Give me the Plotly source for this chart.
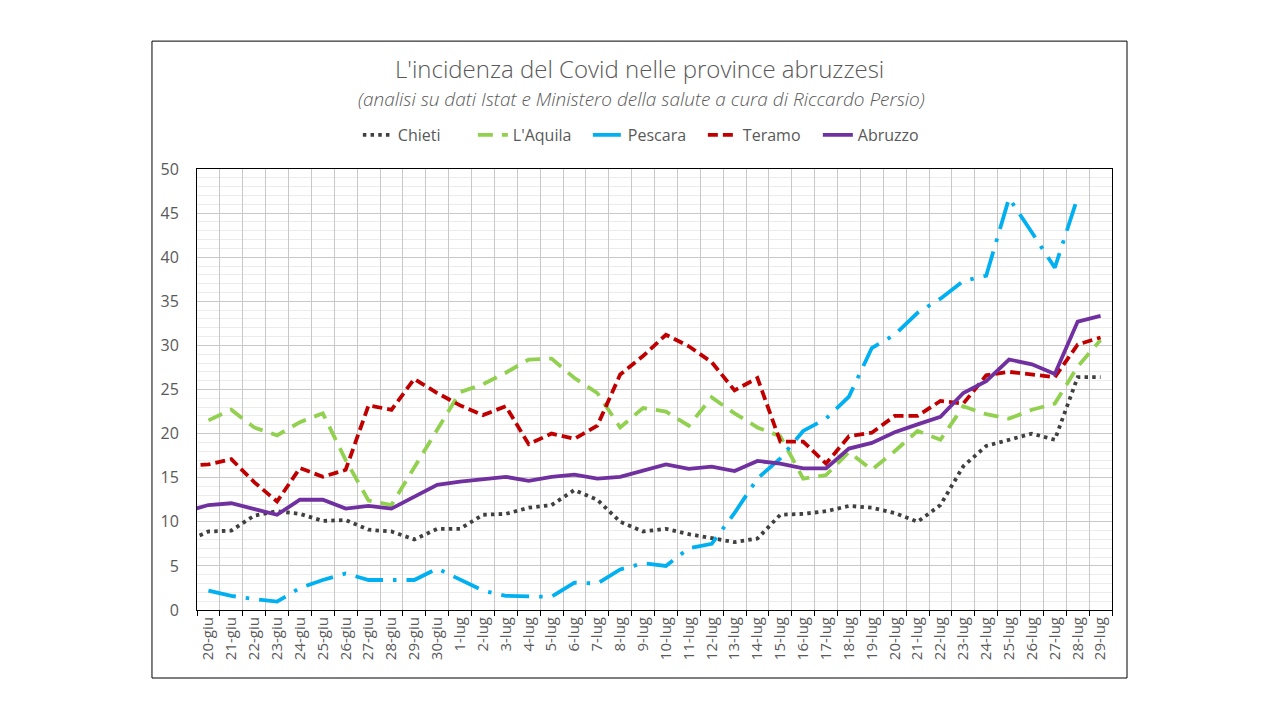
import plotly.graph_objects as go

# Categories (19-giu is present in the data but falls outside the visible axis range)
dates = ["19-giu", "20-giu", "21-giu", "22-giu", "23-giu", "24-giu", "25-giu", "26-giu", "27-giu",
         "28-giu", "29-giu", "30-giu"] + [f"{d}-lug" for d in range(1, 30)]

chieti = [7.75, 8.9, 9.0, 10.7, 11.2, 10.9, 10.1, 10.2, 9.1, 8.9, 8.0, 9.2,
          9.2, 10.8, 10.9, 11.6, 11.9, 13.6, 12.5, 10.0, 8.9, 9.2, 8.6, 8.2, 7.7, 8.1,
          10.8, 10.9, 11.2, 11.8, 11.6, 11.0, 10.0, 11.9, 16.3, 18.6, 19.3, 20.0, 19.3, 26.4, 26.4]
laquila = [None, 21.5, 22.7, 20.7, 19.8, 21.3, 22.3, 17.0, 12.4, 11.9, 16.2, 20.4,
           24.7, 25.6, 26.9, 28.4, 28.5, 26.3, 24.6, 20.7, 22.9, 22.5, 20.9, 24.1, 22.3, 20.7,
           19.7, 14.9, 15.3, 17.9, 15.9, 18.0, 20.3, 19.3, 23.1, 22.2, 21.7, 22.7, 23.4, 27.6, 30.6]
pescara = [None, 2.2, 1.6, 1.25, 0.95, 2.5, 3.4, 4.15, 3.4, 3.4, 3.4, 4.7,
           3.4, 2.2, 1.6, 1.5, 1.5, 3.1, 3.0, 4.6, 5.3, 5.0, 7.0, 7.5, 11.0, 14.9,
           17.2, 20.3, 21.7, 24.2, 29.7, 31.2, 33.7, 35.3, 37.3, 37.9, 46.7, 42.8, 38.8, 46.8, None]
teramo = [16.35, 16.5, 17.1, 14.5, 12.3, 16.1, 15.1, 15.9, 23.2, 22.7, 26.2, 24.6,
          23.2, 22.1, 23.1, 18.8, 20.0, 19.4, 20.9, 26.7, 28.8, 31.2, 29.9, 28.1, 24.9, 26.3,
          19.1, 19.1, 16.6, 19.7, 20.1, 22.0, 22.0, 23.7, 23.4, 26.6, 27.0, 26.7, 26.4, 30.1, 30.9]
abruzzo = [11.15, 11.9, 12.1, 11.5, 10.8, 12.5, 12.5, 11.5, 11.8, 11.5, 12.85, 14.2,
           14.55, 14.8, 15.1, 14.65, 15.1, 15.35, 14.9, 15.1, 15.8, 16.5, 16.0, 16.25, 15.75, 16.9,
           16.6, 16.05, 16.05, 18.3, 18.95, 20.15, 21.05, 21.9, 24.6, 25.95, 28.4, 27.85, 26.75, 32.7, 33.35]

series = [
    ("Chieti", chieti, "#404040", "3.5px,4.2px"),
    ("L'Aquila", laquila, "#92D050", "15px,9px"),
    ("Pescara", pescara, "#00B0F0", "28px,10px,3.5px,10px"),
    ("Teramo", teramo, "#C00000", "10px,5px"),
    ("Abruzzo", abruzzo, "#7030A0", "solid"),
]

FONT = "Open Sans"
GREY = "#595959"

fig = go.Figure()
for name, vals, color, dash in series:
    fig.add_trace(go.Scatter(
        x=dates, y=vals, name=name, mode="lines",
        line=dict(color=color, width=3.8, dash=dash),
        connectgaps=False,
    ))

fig.update_layout(
    width=1280, height=720,
    margin=dict(l=197, r=168, t=169, b=110),
    paper_bgcolor="white", plot_bgcolor="white",
    font=dict(family=FONT, color=GREY),
    showlegend=True,
    legend=dict(orientation="h", x=0.49, xanchor="center", y=1.077, yanchor="middle",
                font=dict(size=16, color=GREY, family=FONT), bgcolor="rgba(0,0,0,0)",
                itemwidth=30, entrywidth=70, entrywidthmode="pixels"),
    annotations=[
        dict(text="L'incidenza del Covid nelle province abruzzesi", xref="paper", yref="paper",
             x=0.484, y=1.2268, xanchor="center", yanchor="middle", showarrow=False,
             font=dict(size=24, color=GREY, family=FONT, weight=300)),
        dict(text="<i>(analisi su dati Istat e Ministero della salute a cura di Riccardo Persio)</i>",
             xref="paper", yref="paper", x=0.486, y=1.1587, xanchor="center", yanchor="middle",
             showarrow=False, font=dict(size=19, color=GREY, family=FONT, weight=300)),
    ],
    shapes=[
        dict(type="rect", xref="paper", yref="paper", x0=-0.0492, x1=1.0164, y0=-0.1542, y1=1.290,
             line=dict(color="black", width=1), fillcolor="rgba(0,0,0,0)", layer="below"),
    ],
)

fig.update_xaxes(
    type="category", categoryorder="array", categoryarray=dates,
    range=[0.5, len(dates) - 0.5],
    tickson="boundaries", ticks="outside", ticklen=5, tickcolor="black", tickwidth=1,
    showgrid=True, gridcolor="#c8c8c8", gridwidth=1,
    showline=True, linecolor="black", linewidth=1, mirror=True,
    tickangle=-90, tickfont=dict(size=15, color=GREY, family=FONT),
    zeroline=False,
)
fig.update_yaxes(
    range=[0, 50], dtick=5, tick0=0,
    showgrid=True, gridcolor="#c8c8c8", gridwidth=1,
    minor=dict(dtick=1, showgrid=True, gridcolor="#ececec", gridwidth=1),
    showline=True, linecolor="black", linewidth=1, mirror=True,
    ticks="", ticklabelstandoff=14,
    tickfont=dict(size=16, color=GREY, family=FONT),
    zeroline=False,
)

fig.write_html("out.html")
